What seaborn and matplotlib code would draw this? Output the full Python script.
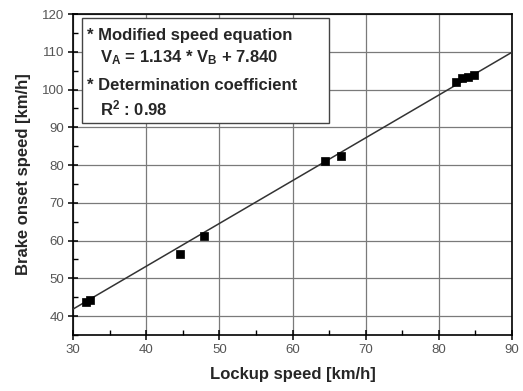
import numpy as np
import pandas as pd
import seaborn as sns
import matplotlib
matplotlib.use("Agg")
import matplotlib.pyplot as plt
from matplotlib.ticker import MultipleLocator
from matplotlib.patches import Rectangle

# Data
lockup_speed = [31.8, 32.3, 44.6, 47.9, 64.5, 66.6, 82.4, 83.2, 84.0, 84.8]
brake_onset_speed = [43.8, 44.2, 56.5, 61.3, 81.0, 82.3, 102.0, 103.0, 103.4, 103.8]
fit_slope = 1.134
fit_intercept = 7.840
fit_x = [30, 90]
x_ticks = [30, 40, 50, 60, 70, 80, 90]
y_ticks = [40, 50, 60, 70, 80, 90, 100, 110, 120]
box_lines = ["* Modified speed equation",
             "V$_A$ = 1.134 * V$_B$ + 7.840",
             "* Determination coefficient",
             "R$^2$ : 0.98"]

sns.set_style("white")
plt.rcParams['font.family'] = ['Liberation Sans', 'DejaVu Sans']
plt.rcParams['mathtext.fontset'] = 'custom'
plt.rcParams['mathtext.rm'] = 'Liberation Sans:bold'
plt.rcParams['mathtext.it'] = 'Liberation Sans:bold'
plt.rcParams['mathtext.bf'] = 'Liberation Sans:bold'

fig = plt.figure(figsize=(5.23, 3.91), dpi=100)
ax = fig.add_axes([0.1396, 0.1432, 0.979 - 0.1396, 0.964 - 0.1432])

df = pd.DataFrame({"x": lockup_speed, "y": brake_onset_speed})
fit_df = pd.DataFrame({"x": fit_x, "y": [fit_slope * v + fit_intercept for v in fit_x]})

sns.lineplot(data=fit_df, x="x", y="y", ax=ax, color="#333333", linewidth=1.1, zorder=3)
sns.scatterplot(data=df, x="x", y="y", ax=ax, marker="s", color="black", s=36,
                edgecolor="black", linewidth=0.5, zorder=4)

ax.set_xlim(30, 90)
ax.set_ylim(35, 120)
ax.set_xticks(x_ticks)
ax.set_yticks(y_ticks)
ax.xaxis.set_minor_locator(MultipleLocator(5))
ax.yaxis.set_minor_locator(MultipleLocator(5))
ax.grid(True, which="major", color="#7a7a7a", linewidth=0.9)
ax.set_axisbelow(True)
for s in ax.spines.values():
    s.set_color("black")
    s.set_linewidth(1.2)
ax.tick_params(axis="both", which="major", direction="inout", length=7, width=1.1,
               color="black", labelcolor="#555555", labelsize=9.5, pad=3,
               bottom=True, left=True, top=False, right=False)
ax.tick_params(axis="both", which="minor", direction="in", length=3.5, width=1.0,
               color="black", bottom=True, left=True, top=False, right=False)

ax.set_xlabel("Lockup speed [km/h]", fontsize=12, fontweight="bold", labelpad=8)
ax.set_ylabel("Brake onset speed [km/h]", fontsize=12, fontweight="bold", labelpad=8)

# annotation box
ax.add_patch(Rectangle((0.0205, 0.660), 0.583 - 0.0205, 0.9875 - 0.660,
                       transform=ax.transAxes, facecolor="white",
                       edgecolor="#444444", linewidth=1.0, zorder=5))
line_x = [0.031, 0.0615, 0.031, 0.0615]
line_y = [0.934, 0.864, 0.776, 0.706]
for t, lx, ly in zip(box_lines, line_x, line_y):
    ax.text(lx, ly, t, transform=ax.transAxes, ha="left", va="center",
            fontsize=12, fontweight="bold", zorder=6)

fig.savefig("out.png", dpi=100)
